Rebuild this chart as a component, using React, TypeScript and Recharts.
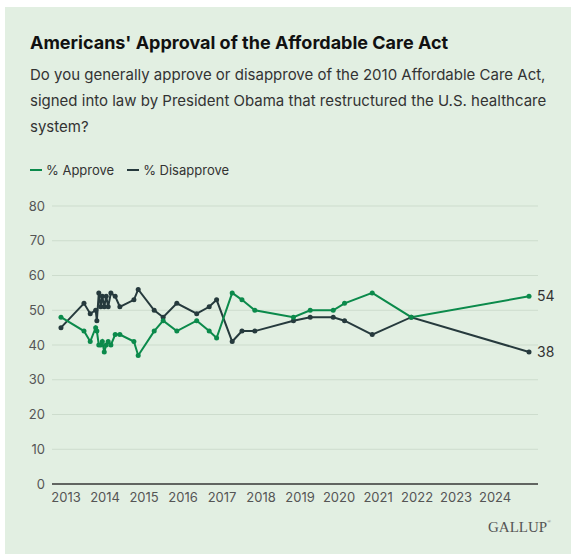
import React from "react"
import { LineChart, Line, XAxis, YAxis, CartesianGrid, LabelList } from "recharts"

// survey dates as decimal years
const dates = [
  2012.87, 2013.46, 2013.62, 2013.76, 2013.79, 2013.84, 2013.89, 2013.93, 2013.98, 2014.03,
  2014.08, 2014.15, 2014.26, 2014.38, 2014.74, 2014.85, 2015.26, 2015.49, 2015.84, 2016.35,
  2016.67, 2016.86, 2017.26, 2017.51, 2017.84, 2018.83, 2019.26, 2019.85, 2020.14, 2020.85,
  2021.85, 2024.87,
]
const approve = [
  48, 44, 41, 45, 44, 40, 40, 41, 38, 40,
  41, 40, 43, 43, 41, 37, 44, 47, 44, 47,
  44, 42, 55, 53, 50, 48, 50, 50, 52, 55,
  48, 54,
]
const disapprove = [
  45, 52, 49, 50, 47, 55, 51, 54, 51, 54,
  51, 55, 54, 51, 53, 56, 50, 48, 52, 49,
  51, 53, 41, 44, 44, 47, 48, 48, 47, 43,
  48, 38,
]
const yearTicks = [2013, 2014, 2015, 2016, 2017, 2018, 2019, 2020, 2021, 2022, 2023, 2024]
const valueTicks = [0, 10, 20, 30, 40, 50, 60, 70, 80]

const data = dates.map((t, i) => ({ t, approve: approve[i], disapprove: disapprove[i] }))

const GREEN = "#0b8a4b"
const DARK = "#263a3d"
const FONT = "Inter, 'Noto Sans', sans-serif"

const endLabel = (props: any) => {
  const { x, y, index, value } = props
  if (index !== data.length - 1) return null
  return (
    <text x={x + 8} y={y + 5} fill="#333" fontSize={14} fontFamily={FONT}>
      {value}
    </text>
  )
}

export default function App() {
  return (
    <div style={{ position: "fixed", left: 0, top: 0, width: 571, height: 554, background: "#fff", fontFamily: FONT }}>
      <div style={{ position: "absolute", left: 5, top: 7, right: 0, bottom: 0, background: "#e2efe2" }} />
      <div style={{ position: "absolute", left: 30, top: 32, fontSize: 18, fontWeight: 700, color: "#111" }}>
        Americans' Approval of the Affordable Care Act
      </div>
      <div style={{ position: "absolute", left: 30, top: 62, fontSize: 15, lineHeight: "26px", color: "#333" }}>
        <div>Do you generally approve or disapprove of the 2010 Affordable Care Act,</div>
        <div>signed into law by President Obama that restructured the U.S. healthcare</div>
        <div>system?</div>
      </div>
      <div style={{ position: "absolute", left: 30, top: 162, fontSize: 13, color: "#333", display: "flex", alignItems: "center" }}>
        <span style={{ display: "inline-block", width: 12, height: 2, background: GREEN, marginRight: 4 }} />
        <span>% Approve</span>
        <span style={{ display: "inline-block", width: 12, height: 2, background: DARK, marginLeft: 13, marginRight: 4 }} />
        <span>% Disapprove</span>
      </div>
      <div style={{ position: "absolute", left: 0, top: 0 }}>
        <LineChart width={571} height={554} data={data} margin={{ top: 206, right: 33, bottom: 40, left: 12 }}>
          <CartesianGrid vertical={false} stroke="#cddccd" />
          <XAxis
            dataKey="t"
            type="number"
            domain={[2012.64, 2025.1]}
            ticks={yearTicks}
            tickFormatter={(v) => String(v)}
            height={30}
            tickLine={false}
            tickSize={0}
            tickMargin={9}
            axisLine={{ stroke: "#3a3a3a", strokeWidth: 1.5 }}
            tick={{ fill: "#555", fontSize: 13, fontFamily: FONT }}
          />
          <YAxis
            domain={[0, 80]}
            ticks={valueTicks}
            width={40}
            axisLine={false}
            tickLine={false}
            tickSize={0}
            tickMargin={7}
            tick={{ fill: "#555", fontSize: 13, fontFamily: FONT }}
          />
          <Line
            dataKey="disapprove"
            stroke={DARK}
            strokeWidth={2}
            dot={{ r: 2.5, fill: DARK, stroke: DARK, strokeWidth: 0 }}
            isAnimationActive={false}
          >
            <LabelList dataKey="disapprove" content={endLabel} />
          </Line>
          <Line
            dataKey="approve"
            stroke={GREEN}
            strokeWidth={2}
            dot={{ r: 2.5, fill: GREEN, stroke: GREEN, strokeWidth: 0 }}
            isAnimationActive={false}
          >
            <LabelList dataKey="approve" content={endLabel} />
          </Line>
        </LineChart>
      </div>
      <div
        style={{
          position: "absolute",
          right: 20,
          top: 519,
          fontFamily: "'Liberation Serif', 'DejaVu Serif', serif",
          fontSize: 15,
          color: "#555",
        }}
      >
        GALLUP<span style={{ fontSize: 5, verticalAlign: "top" }}>®</span>
      </div>
    </div>
  )
}
